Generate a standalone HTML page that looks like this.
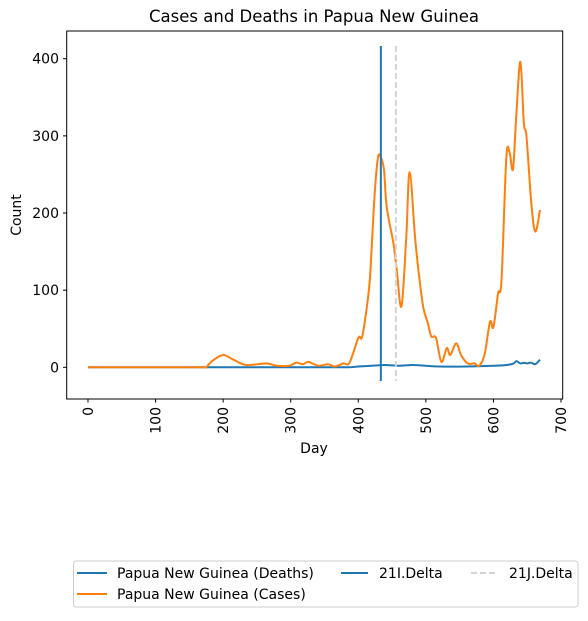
<!DOCTYPE html>
<html><head><meta charset="utf-8"><style>
body{margin:0;background:#fff;font-family:"DejaVu Sans","Liberation Sans",sans-serif;}
svg text{font-family:"DejaVu Sans","Liberation Sans",sans-serif;fill:#000;}
</style></head><body>
<svg id="chart" width="588" height="617" viewBox="0 0 588 617" xmlns="http://www.w3.org/2000/svg">
<rect width="588" height="617" fill="#fff"/>
<text x="314" y="22" font-size="16.5" text-anchor="middle">Cases and Deaths in Papua New Guinea</text>
<g id="series"></g>
<rect x="66.7" y="31" width="496" height="368" fill="none" stroke="#000" stroke-width="1"/>
<g id="axes"></g>
<text x="314" y="453" font-size="14" text-anchor="middle">Day</text>
<text transform="translate(21,215) rotate(-90)" font-size="14" text-anchor="middle">Count</text>
<g>
<rect x="73.5" y="561" width="504.5" height="46" rx="3" fill="#fff" stroke="#ccc" stroke-width="1"/>
<g><line x1="77" y1="573" x2="107" y2="573" stroke="#1f77b4" stroke-width="2"/><text x="117" y="578" font-size="14">Papua New Guinea (Deaths)</text></g>
<g><line x1="77" y1="594" x2="107" y2="594" stroke="#ff7f0e" stroke-width="2"/><text x="117" y="599" font-size="14">Papua New Guinea (Cases)</text></g>
<g><line x1="341" y1="573" x2="368" y2="573" stroke="#1f77b4" stroke-width="2"/><text x="379" y="578" font-size="14">21I.Delta</text></g>
<g><line x1="471" y1="573" x2="498" y2="573" stroke="#d3d3d3" stroke-width="2" stroke-dasharray="6,3"/><text x="509" y="578" font-size="14">21J.Delta</text></g>
</g>
</svg>
<script>
const xTicks=[0,100,200,300,400,500,600,700];
const yTicks=[0,100,200,300,400];
const caseDays=[0,50,100,150,170,175,178,185,200,215,234,264,279,298,308,318,326,341,355,365,378,387,400,405,410,417,424,429,433,438,442,452,457,464,471,476,484,489,496,503,508,515,523,531,536,545,552,562,572,579,587,595,600,607,612,619,624,629,634,640,645,649,656,662,669];
const caseVals=[0,0,0,0,0,0,3,9,16,10,3,5,2,2,6,4,7,2,4,1,5,6,38,38,61,113,221,271,273,256,208,161,126,79,169,253,169,126,79,57,40,38,7,25,16,31,16,5,5,2,17,59,52,96,113,271,278,257,329,396,317,299,213,176,204];
const deathDays=[0,100,200,300,380,400,420,440,460,480,500,520,560,600,620,630,634,640,645,650,656,662,669];
const deathVals=[0,0,0,0,0,1,2,3,2,3,2,1,1,2,3,5,8,5,6,5,6,4,10];
const variantDays=[433.4,455.6];
const xs=d=>88+d*0.6757, ys=v=>367.3-v*0.7715;
const NS="http://www.w3.org/2000/svg";
const ax=document.getElementById('axes'), se=document.getElementById('series');
function mk(t,a,p){const e=document.createElementNS(NS,t);for(const k in a)e.setAttribute(k,a[k]);p.appendChild(e);return e;}
xTicks.forEach(t=>{const x=xs(t);
const l=mk('line',{x1:x,x2:x,y1:399,y2:402.5,stroke:'#000'},ax);


const tx=mk('text',{transform:`translate(${x+5},407) rotate(-90)`,'font-size':14,'text-anchor':'end'},ax);tx.textContent=t;

});
yTicks.forEach(t=>{const y=ys(t);
const l=mk('line',{x1:63,x2:66.7,y1:y,y2:y,stroke:'#000'},ax);


const tx=mk('text',{x:59,y:y+5,'font-size':14,'text-anchor':'end'},ax);tx.textContent=t;

});
function path(ds,vs){const p=ds.map((d,i)=>[xs(d),ys(vs[i])]);let s='M'+p[0][0].toFixed(1)+','+p[0][1].toFixed(1);
for(let i=0;i<p.length-1;i++){const p0=p[i-1]||p[i],p1=p[i],p2=p[i+1],p3=p[i+2]||p2;
const c1=[p1[0]+(p2[0]-p0[0])/6,p1[1]+(p2[1]-p0[1])/6],c2=[p2[0]-(p3[0]-p1[0])/6,p2[1]-(p3[1]-p1[1])/6];
s+=` C${c1[0].toFixed(1)},${c1[1].toFixed(1)} ${c2[0].toFixed(1)},${c2[1].toFixed(1)} ${p2[0].toFixed(1)},${p2[1].toFixed(1)}`;}
return s;}
const dp=mk('path',{d:path(deathDays,deathVals),fill:'none',stroke:'#1f77b4','stroke-width':2},se);


const cp=mk('path',{d:path(caseDays,caseVals),fill:'none',stroke:'#ff7f0e','stroke-width':2,'stroke-linejoin':'round'},se);


const v1=mk('line',{x1:xs(variantDays[0]),x2:xs(variantDays[0]),y1:ys(416.5),y2:ys(-17.8),stroke:'#1f77b4','stroke-width':2},se);


const v2=mk('line',{x1:xs(variantDays[1]),x2:xs(variantDays[1]),y1:ys(416.5),y2:ys(-17.8),stroke:'#d3d3d3','stroke-width':2,'stroke-dasharray':'6,3'},se);


</script>
</body></html>
